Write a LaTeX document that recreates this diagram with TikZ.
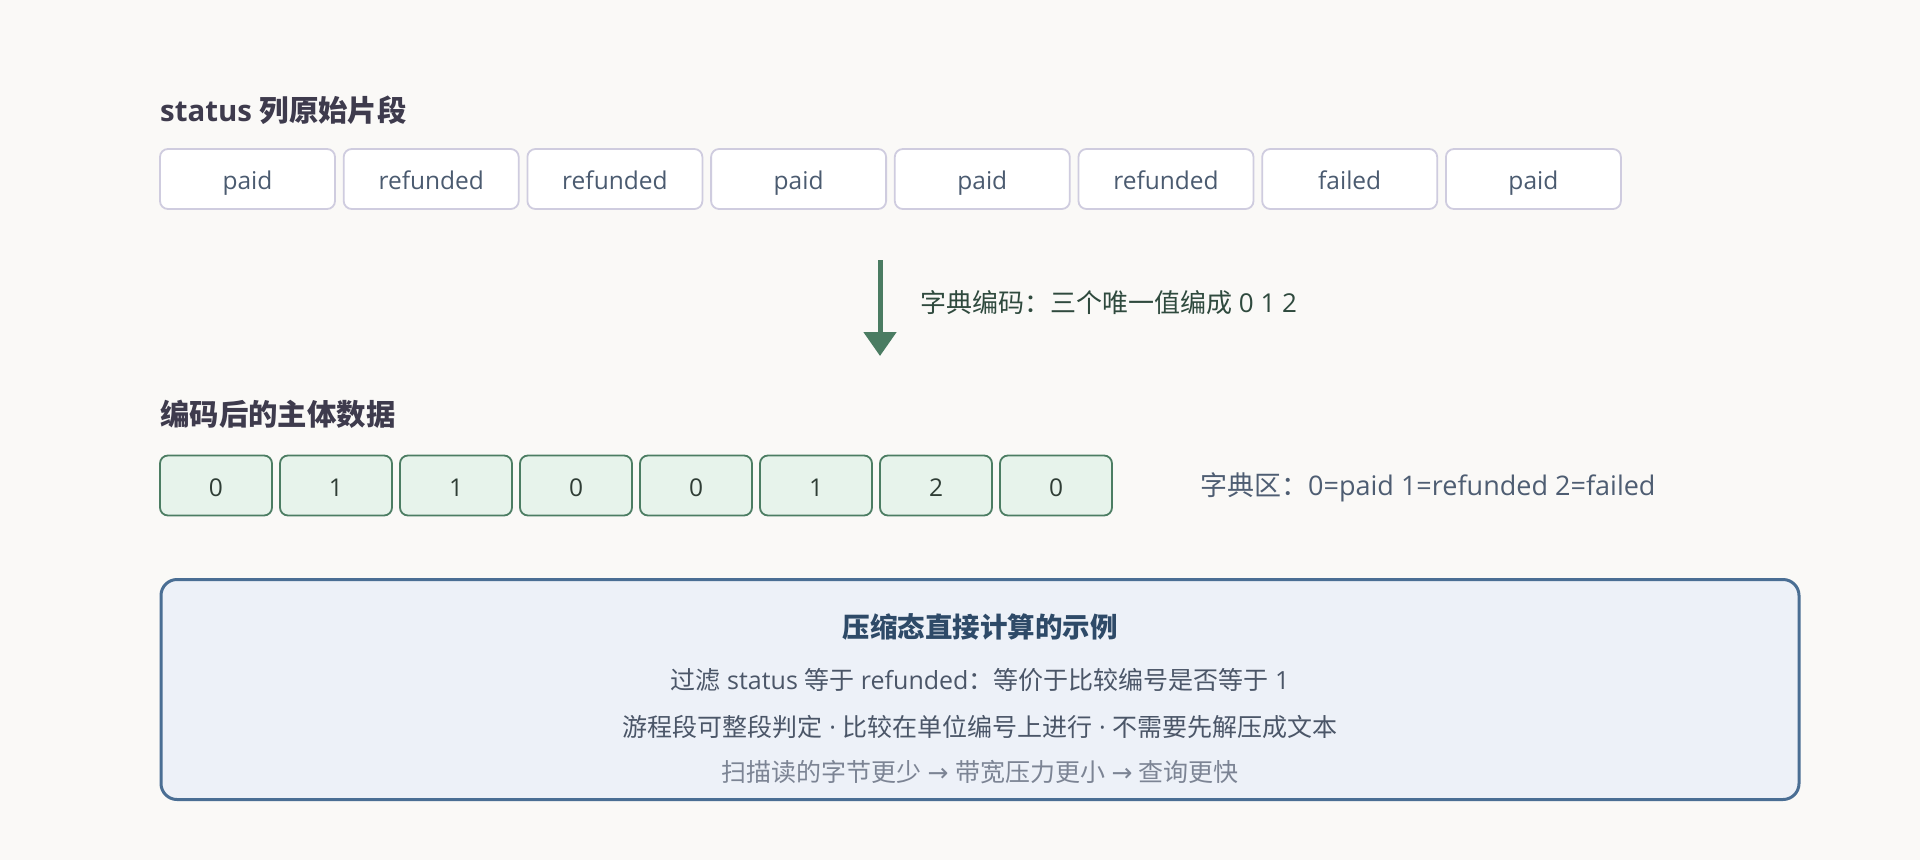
\documentclass[tikz,border=0pt]{standalone}
\usepackage{fontspec}
\setmainfont{Open Sans}
\newfontfamily\cjk{Noto Sans CJK SC}
\newfontfamily\symf{DejaVu Sans}
\usetikzlibrary{arrows.meta}
\definecolor{bgc}{HTML}{FAF9F7}
\definecolor{titlec}{HTML}{3E3B4D}
\definecolor{rawborder}{HTML}{CFCCDF}
\definecolor{rawtext}{HTML}{4B5B70}
\definecolor{encfill}{HTML}{E7F3EB}
\definecolor{encborder}{HTML}{4C7D63}
\definecolor{enctext}{HTML}{2F3D35}
\definecolor{arrowc}{HTML}{4A7C62}
\definecolor{arrowtext}{HTML}{2F4A3E}
\definecolor{dicttext}{HTML}{4E5D72}
\definecolor{boxfill}{HTML}{EDF1F8}
\definecolor{boxborder}{HTML}{4A6E94}
\definecolor{boxtitle}{HTML}{2E4A68}
\definecolor{boxtext}{HTML}{4B5668}
\definecolor{boxlight}{HTML}{7C8494}
\tikzset{
  rawbox/.style={draw=rawborder, fill=white, rounded corners=8pt, line width=1.8pt,
    minimum width=175pt, minimum height=60pt, inner sep=0pt, text=rawtext,
    text height=21pt, text depth=0pt,
    font=\fontsize{24.5}{29}\selectfont},
  encbox/.style={draw=encborder, fill=encfill, rounded corners=8pt, line width=1.8pt,
    minimum width=112pt, minimum height=60pt, inner sep=0pt, text=enctext,
    text height=21pt, text depth=0pt,
    font=\fontsize{24.5}{29}\selectfont},
  sectitle/.style={anchor=west, inner sep=0pt, text=titlec,
    font=\fontsize{29.4}{34}\selectfont\bfseries},
  plain/.style={inner sep=0pt, font=\fontsize{25}{30}\selectfont},
  bigbox/.style={draw=boxborder, fill=boxfill, rounded corners=16pt, line width=3pt,
    minimum width=1638pt, minimum height=220pt, inner sep=0pt},
  flowarrow/.style={draw=arrowc, line width=5pt,
    -{Triangle[length=24pt,width=32pt]}}
}
\begin{document}
\begin{tikzpicture}[x=1pt,y=-1pt]
\fill[bgc] (0,0) rectangle (1920,860);
\useasboundingbox (0,0) rectangle (1920,860);

% section 1
\node[sectitle] (t1) at (160,110) {status {\cjk 列原始片段}};
\node[rawbox] (r0) at (247.5,179) {paid};
\node[rawbox] (r1) at (431.2,179) {refunded};
\node[rawbox] (r2) at (614.9,179) {refunded};
\node[rawbox] (r3) at (798.6,179) {paid};
\node[rawbox] (r4) at (982.3,179) {paid};
\node[rawbox] (r5) at (1166.0,179) {refunded};
\node[rawbox] (r6) at (1349.7,179) {failed};
\node[rawbox] (r7) at (1533.4,179) {paid};

% arrow
\coordinate (a1) at (880,260);
\coordinate (a2) at (880,356);
\draw[flowarrow] (a1) -- (a2);
\node[plain, anchor=west, text=arrowtext, font=\fontsize{26}{31}\selectfont] (al) at (920,303) {{\cjk 字典编码：三个唯一值编成} 0 1 2};

% section 2
\node[sectitle] (t2) at (160,414) {{\cjk 编码后的主体数据}};
\node[encbox] (e0) at (216,485.5) {0};
\node[encbox] (e1) at (336,485.5) {1};
\node[encbox] (e2) at (456,485.5) {1};
\node[encbox] (e3) at (576,485.5) {0};
\node[encbox] (e4) at (696,485.5) {0};
\node[encbox] (e5) at (816,485.5) {1};
\node[encbox] (e6) at (936,485.5) {2};
\node[encbox] (e7) at (1056,485.5) {0};
\node[plain, anchor=west, text=dicttext, font=\fontsize{27}{32}\selectfont] (dict) at (1200,487) {{\cjk 字典区：}0=paid 1=refunded 2=failed};

% bottom box
\node[bigbox] (bb) at (980,689.5) {};
\node[inner sep=0pt, text=boxtitle, font=\fontsize{27.5}{32}\selectfont\bfseries] (bt) at (980,627) {{\cjk 压缩态直接计算的示例}};
\node[plain, text=boxtext] (l1) at (980,680) {{\cjk 过滤} status {\cjk 等于} refunded{\cjk ：等价于比较编号是否等于} 1};
\node[plain, text=boxtext] (l2) at (980,727) {{\cjk 游程段可整段判定} · {\cjk 比较在单位编号上进行} · {\cjk 不需要先解压成文本}};
\node[plain, text=boxlight] (l3) at (980,772) {{\cjk 扫描读的字节更少} {\symf →} {\cjk 带宽压力更小} {\symf →} {\cjk 查询更快}};
\end{tikzpicture}
\end{document}
